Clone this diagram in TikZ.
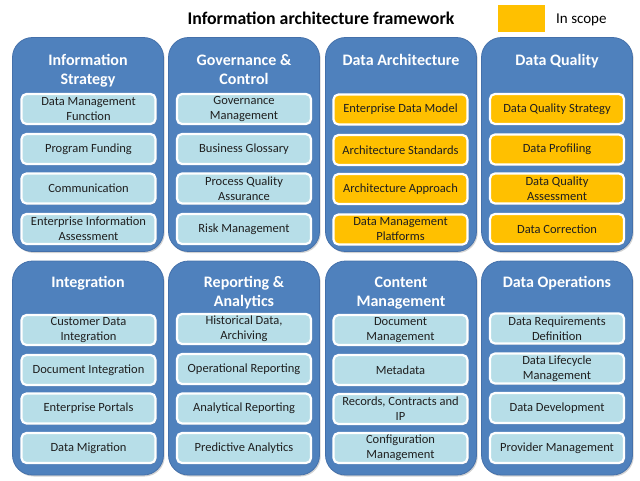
\documentclass[tikz,border=0pt]{standalone}
\usepackage{fontspec}
\setmainfont{Carlito}
\usetikzlibrary{shadows}
\definecolor{bigblue}{HTML}{4F81BD}
\definecolor{bigedge}{HTML}{4470AA}
\definecolor{lightblue}{HTML}{B7DEE8}
\definecolor{scope}{HTML}{FFC000}
\definecolor{itemtext}{HTML}{1F1F1F}
\tikzset{
  bigbox/.style={rounded corners=20pt, fill=bigblue, draw=bigedge, line width=0.8pt,
    minimum width=151pt, minimum height=214pt, inner sep=0pt,
    drop shadow={shadow xshift=1.2pt, shadow yshift=-1.5pt, opacity=0.35}},
  coltitle/.style={anchor=north, text=white, align=center, inner sep=0pt,
    font=\bfseries\fontsize{16}{19}\selectfont},
  item/.style={rounded corners=5pt, draw=white, line width=2.2pt, fill=lightblue,
    minimum width=134pt, minimum height=30pt, inner sep=1pt, align=center,
    text=itemtext, font=\fontsize{12.5}{15}\selectfont,
    drop shadow={shadow xshift=1pt, shadow yshift=-1.2pt, opacity=0.45}},
  scopeitem/.style={item, fill=scope},
  maintitle/.style={font=\bfseries\fontsize{17.8}{20}\selectfont, text=black},
}
\begin{document}
\begin{tikzpicture}[x=1pt,y=-1pt]
\useasboundingbox (0,0) rectangle (640,480);
% title and legend
\node[maintitle] (title) at (321,18) {Information architecture framework};
\node[fill=scope, minimum width=47pt, minimum height=27pt, inner sep=0pt] (legend) at (521.5,18.5) {};
\node[anchor=west, font=\fontsize{15}{17}\selectfont, inner sep=0pt] (legendtext) at (556,20) {In scope};

% ---------- top row ----------
\node[bigbox] (c1) at (88,144.5) {};
\node[bigbox] (c2) at (244,144.5) {};
\node[bigbox] (c3) at (401,144.5) {};
\node[bigbox] (c4) at (557,144.5) {};
\node[coltitle] (t1) at (88,54.5) {Information\\Strategy};
\node[coltitle] (t2) at (244,54.5) {Governance \&\\Control};
\node[coltitle] (t3) at (401,54.5) {Data Architecture};
\node[coltitle] (t4) at (557,54.5) {Data Quality};

\node[item] (a1) at (88.5,109) {Data Management\\Function};
\node[item] (a2) at (88.5,149) {Program Funding};
\node[item] (a3) at (88.5,188.5) {Communication};
\node[item] (a4) at (88.5,229) {Enterprise Information\\Assessment};

\node[item] (b1) at (244,109) {Governance\\Management};
\node[item] (b2) at (244,149) {Business Glossary};
\node[item] (b3) at (244,188.5) {Process Quality\\Assurance};
\node[item] (b4) at (244,229) {Risk Management};

\node[scopeitem] (d1) at (400.5,109.5) {Enterprise Data Model};
\node[scopeitem] (d2) at (400.5,150) {Architecture Standards};
\node[scopeitem] (d3) at (400.5,189) {Architecture Approach};
\node[scopeitem] (d4) at (400.5,229.5) {Data Management\\Platforms};

\node[scopeitem] (e1) at (557,109) {Data Quality Strategy};
\node[scopeitem] (e2) at (557,149.5) {Data Profiling};
\node[scopeitem] (e3) at (557,188.5) {Data Quality\\Assessment};
\node[scopeitem] (e4) at (557,229) {Data Correction};

% ---------- bottom row ----------
\node[bigbox] (c5) at (88,368) {};
\node[bigbox] (c6) at (244,368) {};
\node[bigbox] (c7) at (401,368) {};
\node[bigbox] (c8) at (557,368) {};
\node[coltitle] (t5) at (88,276.5) {Integration};
\node[coltitle] (t6) at (244,276.5) {Reporting \&\\Analytics};
\node[coltitle] (t7) at (401,276.5) {Content\\Management};
\node[coltitle] (t8) at (557,276.5) {Data Operations};

\node[item] (f1) at (88.5,330) {Customer Data\\Integration};
\node[item] (f2) at (88.5,370) {Document Integration};
\node[item] (f3) at (88.5,408.5) {Enterprise Portals};
\node[item] (f4) at (88.5,448) {Data Migration};

\node[item] (g1) at (244,329) {Historical Data,\\Archiving};
\node[item] (g2) at (244,369) {Operational Reporting};
\node[item] (g3) at (244,408.5) {Analytical Reporting};
\node[item] (g4) at (244,448) {Predictive Analytics};

\node[item] (h1) at (400.5,330) {Document\\Management};
\node[item] (h2) at (400.5,370) {Metadata};
\node[item] (h3) at (400.5,409) {Records, Contracts and\\IP};
\node[item] (h4) at (400.5,448) {Configuration\\Management};

\node[item] (k1) at (557,328.5) {Data Requirements\\Definition};
\node[item] (k2) at (557,368.5) {Data Lifecycle\\Management};
\node[item] (k3) at (557,408) {Data Development};
\node[item] (k4) at (557,448) {Provider Management};
\end{tikzpicture}
\end{document}
